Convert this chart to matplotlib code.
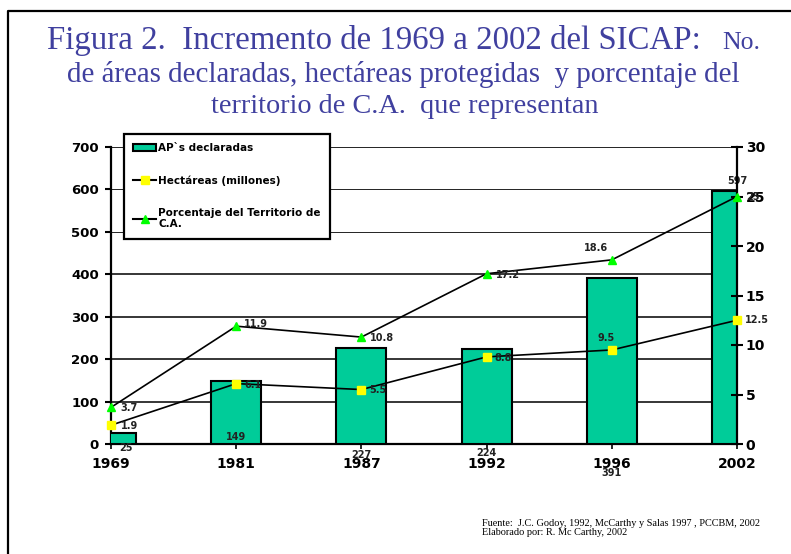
import numpy as np
import matplotlib
matplotlib.use('Agg')
import matplotlib.pyplot as plt
from matplotlib.patches import Patch
from matplotlib.lines import Line2D

# datos del grafico
years = ['1969', '1981', '1987', '1992', '1996', '2002']
areas = [25, 149, 227, 224, 391, 597]
hectareas = [1.9, 6.1, 5.5, 8.8, 9.5, 12.5]
porcentaje = [3.7, 11.9, 10.8, 17.2, 18.6, 25]
left_ticks = [0, 100, 200, 300, 400, 500, 600, 700]
right_ticks = [0, 5, 10, 15, 20, 25, 30]

W, H = 791, 554
PX = 72 / 100  # px -> pt

plt.rcParams['font.family'] = 'DejaVu Sans'
plt.rcParams['font.weight'] = 'bold'

fig = plt.figure(figsize=(W / 100, H / 100), dpi=100)
ax = fig.add_axes([111 / W, 1 - 444 / H, (737 - 111) / W, (444 - 147) / H])

x = np.arange(len(years))
ax.bar(x, areas, width=0.4, color='#00CC99', edgecolor='black', linewidth=1.5, zorder=3)
for v in left_ticks[1:]:
    ax.axhline(v, color='black', lw=1.1 if v <= 400 else 0.6, zorder=2)

ax.set_xlim(0, 5)
ax.set_ylim(0, 700)
ax.set_xticks(x)
ax.set_xticklabels(years)
ax.set_yticks(left_ticks)
ax.tick_params(axis='y', direction='out', length=4.3, width=1.5, labelsize=9.5, pad=4.5)
ax.tick_params(axis='x', direction='out', length=3.5, width=1.2, labelsize=10, pad=6)
ax.spines['top'].set_visible(False)
ax.spines['right'].set_visible(False)
for s in ['left', 'bottom']:
    ax.spines[s].set_linewidth(1.6)

# etiquetas de las barras (posiciones como en el original)
bar_off = [(15, -4, 0), (0, 7, 0), (0, -11, 0), (0, -9, 0), (0, -29, 0), (0, 10, 1)]
for i, v in enumerate(areas):
    dx, dy, top = bar_off[i]
    ax.annotate(str(v), xy=(i, v if top else 0), xytext=(dx * PX, dy * PX),
                textcoords='offset points', ha='center', va='center',
                fontsize=7, color='#222222', zorder=6, annotation_clip=False)

ax2 = ax.twinx()
ax2.set_ylim(0, 30)
ax2.set_yticks(right_ticks)
ax2.tick_params(axis='y', direction='inout', length=8.6, width=1.5, labelsize=10, pad=2)
ax2.spines['top'].set_visible(False)
ax2.spines['left'].set_visible(False)
ax2.spines['bottom'].set_visible(False)
ax2.spines['right'].set_linewidth(1.6)

ax2.plot(x, hectareas, color='black', lw=1.2, marker='s', ms=5.5,
         mfc='#FFFF00', mec='#FFFF00', clip_on=False, zorder=5)
ax2.plot(x, porcentaje, color='black', lw=1.2, marker='^', ms=5.5,
         mfc='#00FF00', mec='#00FF00', clip_on=False, zorder=5)

hect_off = [(10, -1, 'left'), (8, -1, 'left'), (8, 0, 'left'), (8, -1, 'left'), (-6, 12, 'center'), (8, 0, 'left')]
pct_off = [(9, -1, 'left'), (8, 2, 'left'), (9, -1, 'left'), (9, -1, 'left'), (-4, 12, 'right'), (9, 0, 'left')]
for vals, offs in [(hectareas, hect_off), (porcentaje, pct_off)]:
    for i, v in enumerate(vals):
        dx, dy, ha = offs[i]
        ax2.annotate(f'{v:g}', xy=(i, v), xytext=(dx * PX, dy * PX), textcoords='offset points',
                     ha=ha, va='center', fontsize=7, color='#222222', zorder=6,
                     annotation_clip=False)

handles = [Patch(facecolor='#00CC99', edgecolor='black', linewidth=1.5),
           Line2D([], [], color='black', lw=1.5, marker='s', ms=5.5, mfc='#FFFF00', mec='#FFFF00'),
           Line2D([], [], color='black', lw=1.5, marker='^', ms=5.5, mfc='#00FF00', mec='#00FF00')]
labels = ['AP`s declaradas', 'Hectáreas (millones)', 'Porcentaje del Territorio de\nC.A.']
leg = ax2.legend(handles, labels, loc='upper left', bbox_to_anchor=(124 / W, 1 - 134 / H),
                 bbox_transform=fig.transFigure, borderaxespad=0, fancybox=False,
                 edgecolor='black', framealpha=1, fontsize=7.5, handlelength=2.2,
                 handletextpad=0.2, labelspacing=2.1, borderpad=0.9)
leg.get_frame().set_linewidth(1.6)

# titulo
tcol = '#40409F'
serif = 'Liberation Serif'
fig.text(47 / W, 1 - 49 / H, 'Figura 2.  Incremento de 1969 a 2002 del SICAP:',
         family=serif, fontweight='normal', fontsize=23.7, color=tcol,
         ha='left', va='baseline')
fig.text(760 / W, 1 - 49 / H, 'No.', family=serif, fontweight='normal',
         fontsize=18.5, color=tcol, ha='right', va='baseline')
fig.text(403 / W, 1 - 82 / H, 'de áreas declaradas, hectáreas protegidas  y porcentaje del',
         family=serif, fontweight='normal', fontsize=20.9, color=tcol,
         ha='center', va='baseline')
fig.text(405 / W, 1 - 113 / H, 'territorio de C.A.  que representan',
         family=serif, fontweight='normal', fontsize=20.3, color=tcol,
         ha='center', va='baseline')

fig.text(482 / W, 1 - 526 / H, 'Fuente:  J.C. Godoy, 1992, McCarthy y Salas 1997 , PCCBM, 2002',
         family=serif, fontweight='normal', fontsize=7.4, ha='left', va='baseline')
fig.text(482 / W, 1 - 535 / H, 'Elaborado por: R. Mc Carthy, 2002',
         family=serif, fontweight='normal', fontsize=7.4, ha='left', va='baseline')

# marco
fig.add_artist(Line2D([8 / W, 8 / W, 1], [0, 1 - 11 / H, 1 - 11 / H],
                      transform=fig.transFigure, color='black', lw=1.6))

fig.savefig('out.png', dpi=100)
